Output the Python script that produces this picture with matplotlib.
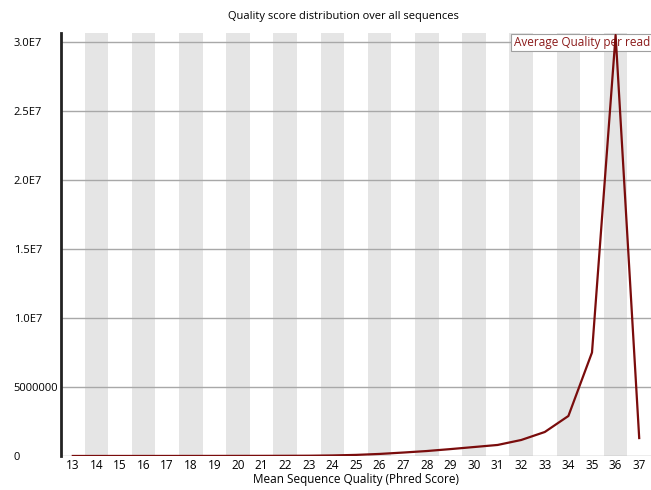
import numpy as np
import matplotlib.pyplot as plt

# mean phred quality per read (x) and number of reads (y)
quality = list(range(13, 38))
counts = [2000, 2000, 3000, 3000, 4000, 5000, 6000, 8000, 10000, 14000,
          20000, 40000, 80000, 150000, 250000, 360000, 500000, 650000,
          800000, 1160000, 1740000, 2900000, 7500000, 30500000, 1300000]
ytick_vals = [0, 5e6, 1e7, 1.5e7, 2e7, 2.5e7, 3e7]
ytick_labels = ["0", "5000000", "1.0E7", "1.5E7", "2.0E7", "2.5E7", "3.0E7"]

plt.rcParams['font.family'] = ['Open Sans', 'DejaVu Sans']

fig = plt.figure(figsize=(6.51, 4.90), dpi=100)
ax = fig.add_axes([61 / 651, 34 / 490, 590 / 651, 423 / 490])

# alternating grey bands behind every second category
for q in quality:
    if q % 2 == 0:
        ax.axvspan(q - 0.5, q + 0.5, color='#e5e5e5', lw=0, zorder=0)

for v in ytick_vals:
    ax.axhline(v, color='#a8a8a8', lw=1.0, zorder=1)

ax.plot(quality, counts, color='#7a0c0c', lw=1.6, zorder=4)

ax.set_xlim(12.5, 37.5)
ax.set_ylim(0, 3.065e7)
ax.set_xticks(quality)
ax.set_xticklabels([str(q) for q in quality], fontsize=8.5)
ax.set_yticks(ytick_vals)
ax.set_yticklabels(ytick_labels, fontsize=8, ha='left')
ax.tick_params(axis='y', length=0, pad=34)
ax.tick_params(axis='x', length=0, pad=2)

for s in ['top', 'right', 'bottom']:
    ax.spines[s].set_visible(False)
ax.spines['left'].set_linewidth(2)
ax.spines['left'].set_color('#222222')

ax.set_xlabel("Mean Sequence Quality (Phred Score)", fontsize=8.5, labelpad=1)
fig.text(343 / 651, 1 - 16 / 490,
         "Quality score distribution over all sequences",
         fontsize=8, ha='center', va='center')

# legend box sits under the data line, like in FastQC
ax.text(0.998, 0.993, "Average Quality per read", transform=ax.transAxes,
        ha='right', va='top', fontsize=8.5, color='#8b1a1a', zorder=2,
        bbox=dict(boxstyle='square,pad=0.2', fc='white', ec='#a0a0a0', lw=0.8))

fig.savefig("out.png", dpi=100)
